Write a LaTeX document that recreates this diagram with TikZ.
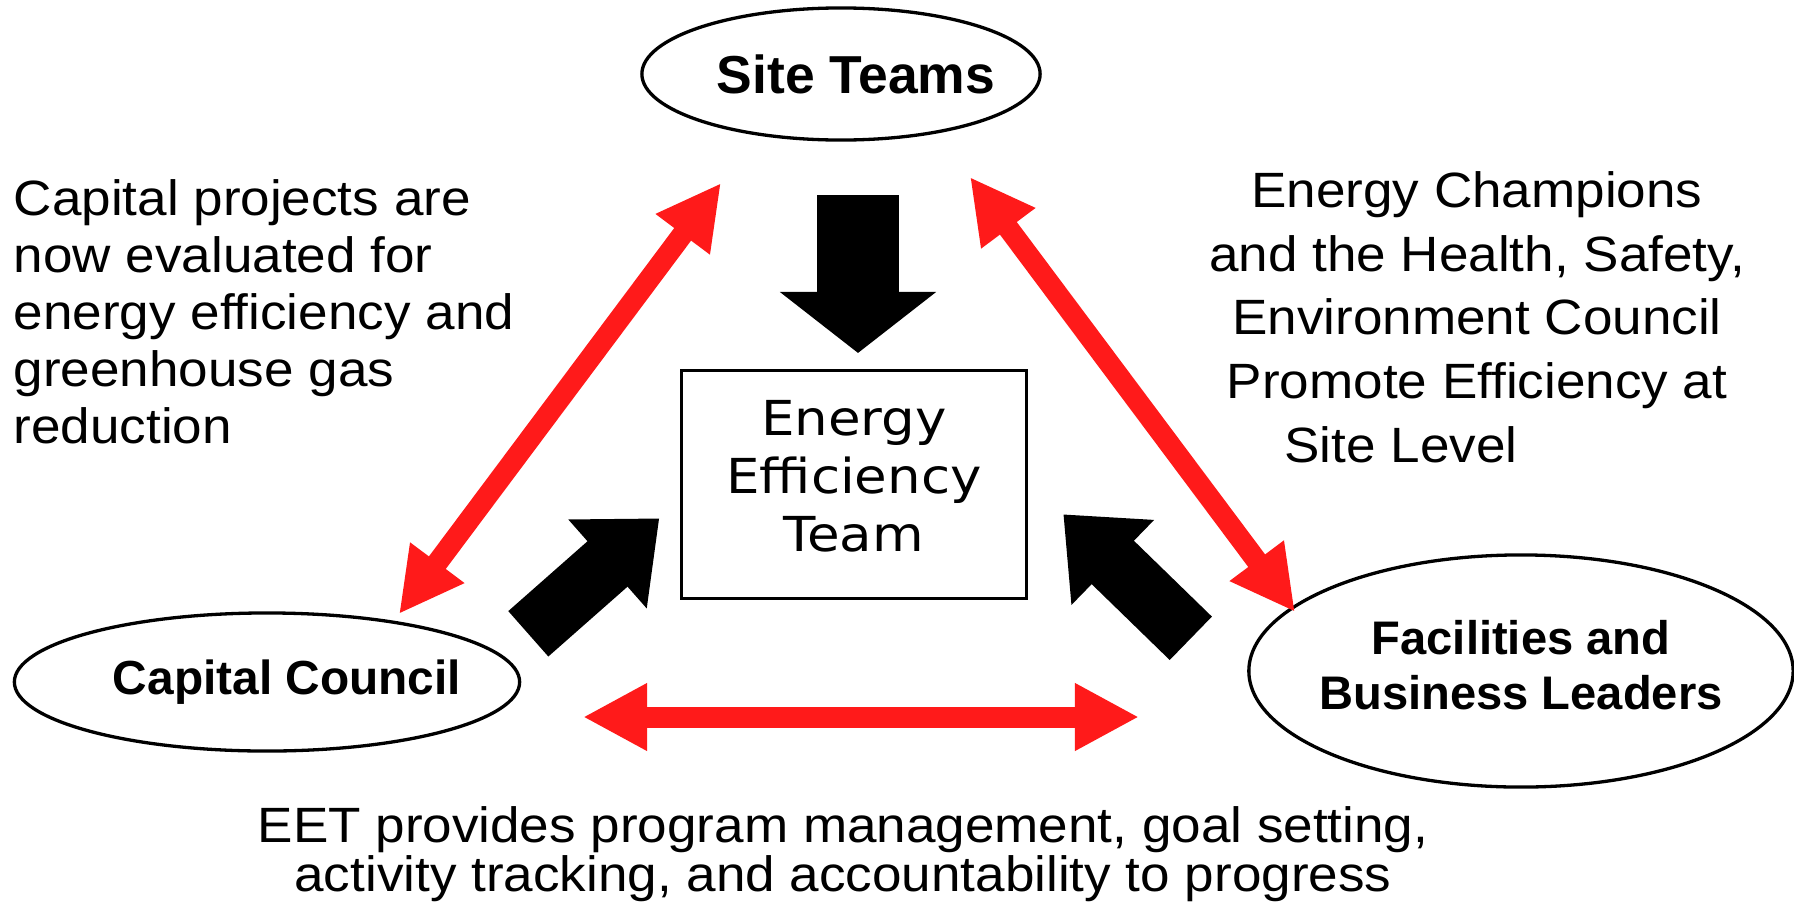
\documentclass[tikz,border=0pt]{standalone}
\usepackage{fontspec}
\setmainfont{Liberation Sans}
\newfontfamily\notefont{Liberation Sans}[FakeStretch=1.07]
\newfontfamily\eetfont{DejaVu Sans}[FakeStretch=1.1]
\usetikzlibrary{arrows.meta,shapes.geometric}
\definecolor{linkred}{RGB}{255,26,26}

\begin{document}
\begin{tikzpicture}[x=0.01cm,y=-0.01cm]
\tikzstyle{group} = [ellipse, draw, line width=0.033cm, fill=white, inner sep=0pt,
font=\bfseries\fontsize{13.6pt}{15.6pt}\selectfont]
\tikzstyle{eet_box} = [rectangle, draw, line width=0.03cm, inner sep=0pt,
align=center, font=\eetfont\fontsize{13.7pt}{16.5pt}\selectfont]
\tikzstyle{note} = [inner sep=0pt, font=\notefont\fontsize{14.1pt}{16.2pt}\selectfont]
\tikzstyle{red_link} = [draw=linkred, line width=0.21cm,
{Triangle[length=0.64cm,width=0.63cm]}-{Triangle[length=0.64cm,width=0.63cm]}];
\tikzstyle{push} = [draw=black, line width=0.605cm,
-{Triangle[length=0.69cm,width=1.14cm]}];
\useasboundingbox (0,0) rectangle (1794,912);

% groups
\node [group, minimum width=3.98cm, minimum height=1.32cm,
  font=\bfseries\fontsize{15.2pt}{17pt}\selectfont] (site) at (841,74)
  {\makebox[0pt]{\hspace*{0.3cm}Site Teams}};
\node [group, minimum width=5.05cm, minimum height=1.38cm] (capital) at (267,682)
  {\makebox[0pt]{\hspace*{0.4cm}Capital Council}};
\node [group, minimum width=5.44cm, minimum height=2.32cm,
  font=\bfseries\fontsize{13.4pt}{15.6pt}\selectfont] (leaders) at (1521,671)
  {\makebox[0pt]{\begin{tabular}{@{}c@{}}Facilities and\\Business Leaders\end{tabular}}};
% team in the middle
\node [eet_box, minimum width=3.44cm, minimum height=2.27cm] (eet) at (854,484.5)
  {Energy\\Efficiency\\Team\rule[-0.17cm]{0pt}{0pt}};

% notes
\node [note, align=left, anchor=base west] (capnote) at (13,443)
  {Capital projects are\\now evaluated for\\energy efficiency and\\greenhouse gas\\reduction};
\node [note, align=center, anchor=base, font=\notefont\fontsize{14.1pt}{18.1pt}\selectfont] (sitenote) at (1477,462)
  {Energy Champions\\and the Health, Safety,\\Environment Council\\Promote Efficiency at\\Site Level\hspace*{1.52cm}};
\node [note, align=center, anchor=base, font=\notefont\fontsize{14.1pt}{13.9pt}\selectfont] (eetnote) at (843,891)
  {EET provides program management, goal setting,\\activity tracking, and accountability to progress};

% arrow ends
\coordinate (cap_tip) at (399,614);
\coordinate (site_tip_l) at (721,183);
\coordinate (site_tip_r) at (970,177);
\coordinate (lead_tip) at (1295,612);
\coordinate (cap_tip_r) at (583,717);
\coordinate (lead_tip_l) at (1139,717);

% red links
\path [red_link] (cap_tip) -- (site_tip_l);
\path [red_link] (site_tip_r) -- (lead_tip);
\path [red_link] (cap_tip_r) -- (lead_tip_l);

% black arrows into the team
\coordinate (site_out) at (858,195);
\coordinate (eet_top) at (858,353);
\coordinate (cap_out) at (528.3,633.8);
\coordinate (eet_left) at (659.3,518.3);
\coordinate (lead_out) at (1190.8,638.3);
\coordinate (eet_right) at (1063.3,514.3);
\path [draw=black, line width=0.82cm, -{Triangle[length=0.61cm,width=1.53cm]}] (site_out) -- (eet_top);
\path [push] (cap_out) -- (eet_left);
\path [push] (lead_out) -- (eet_right);
\end{tikzpicture}
\end{document}
